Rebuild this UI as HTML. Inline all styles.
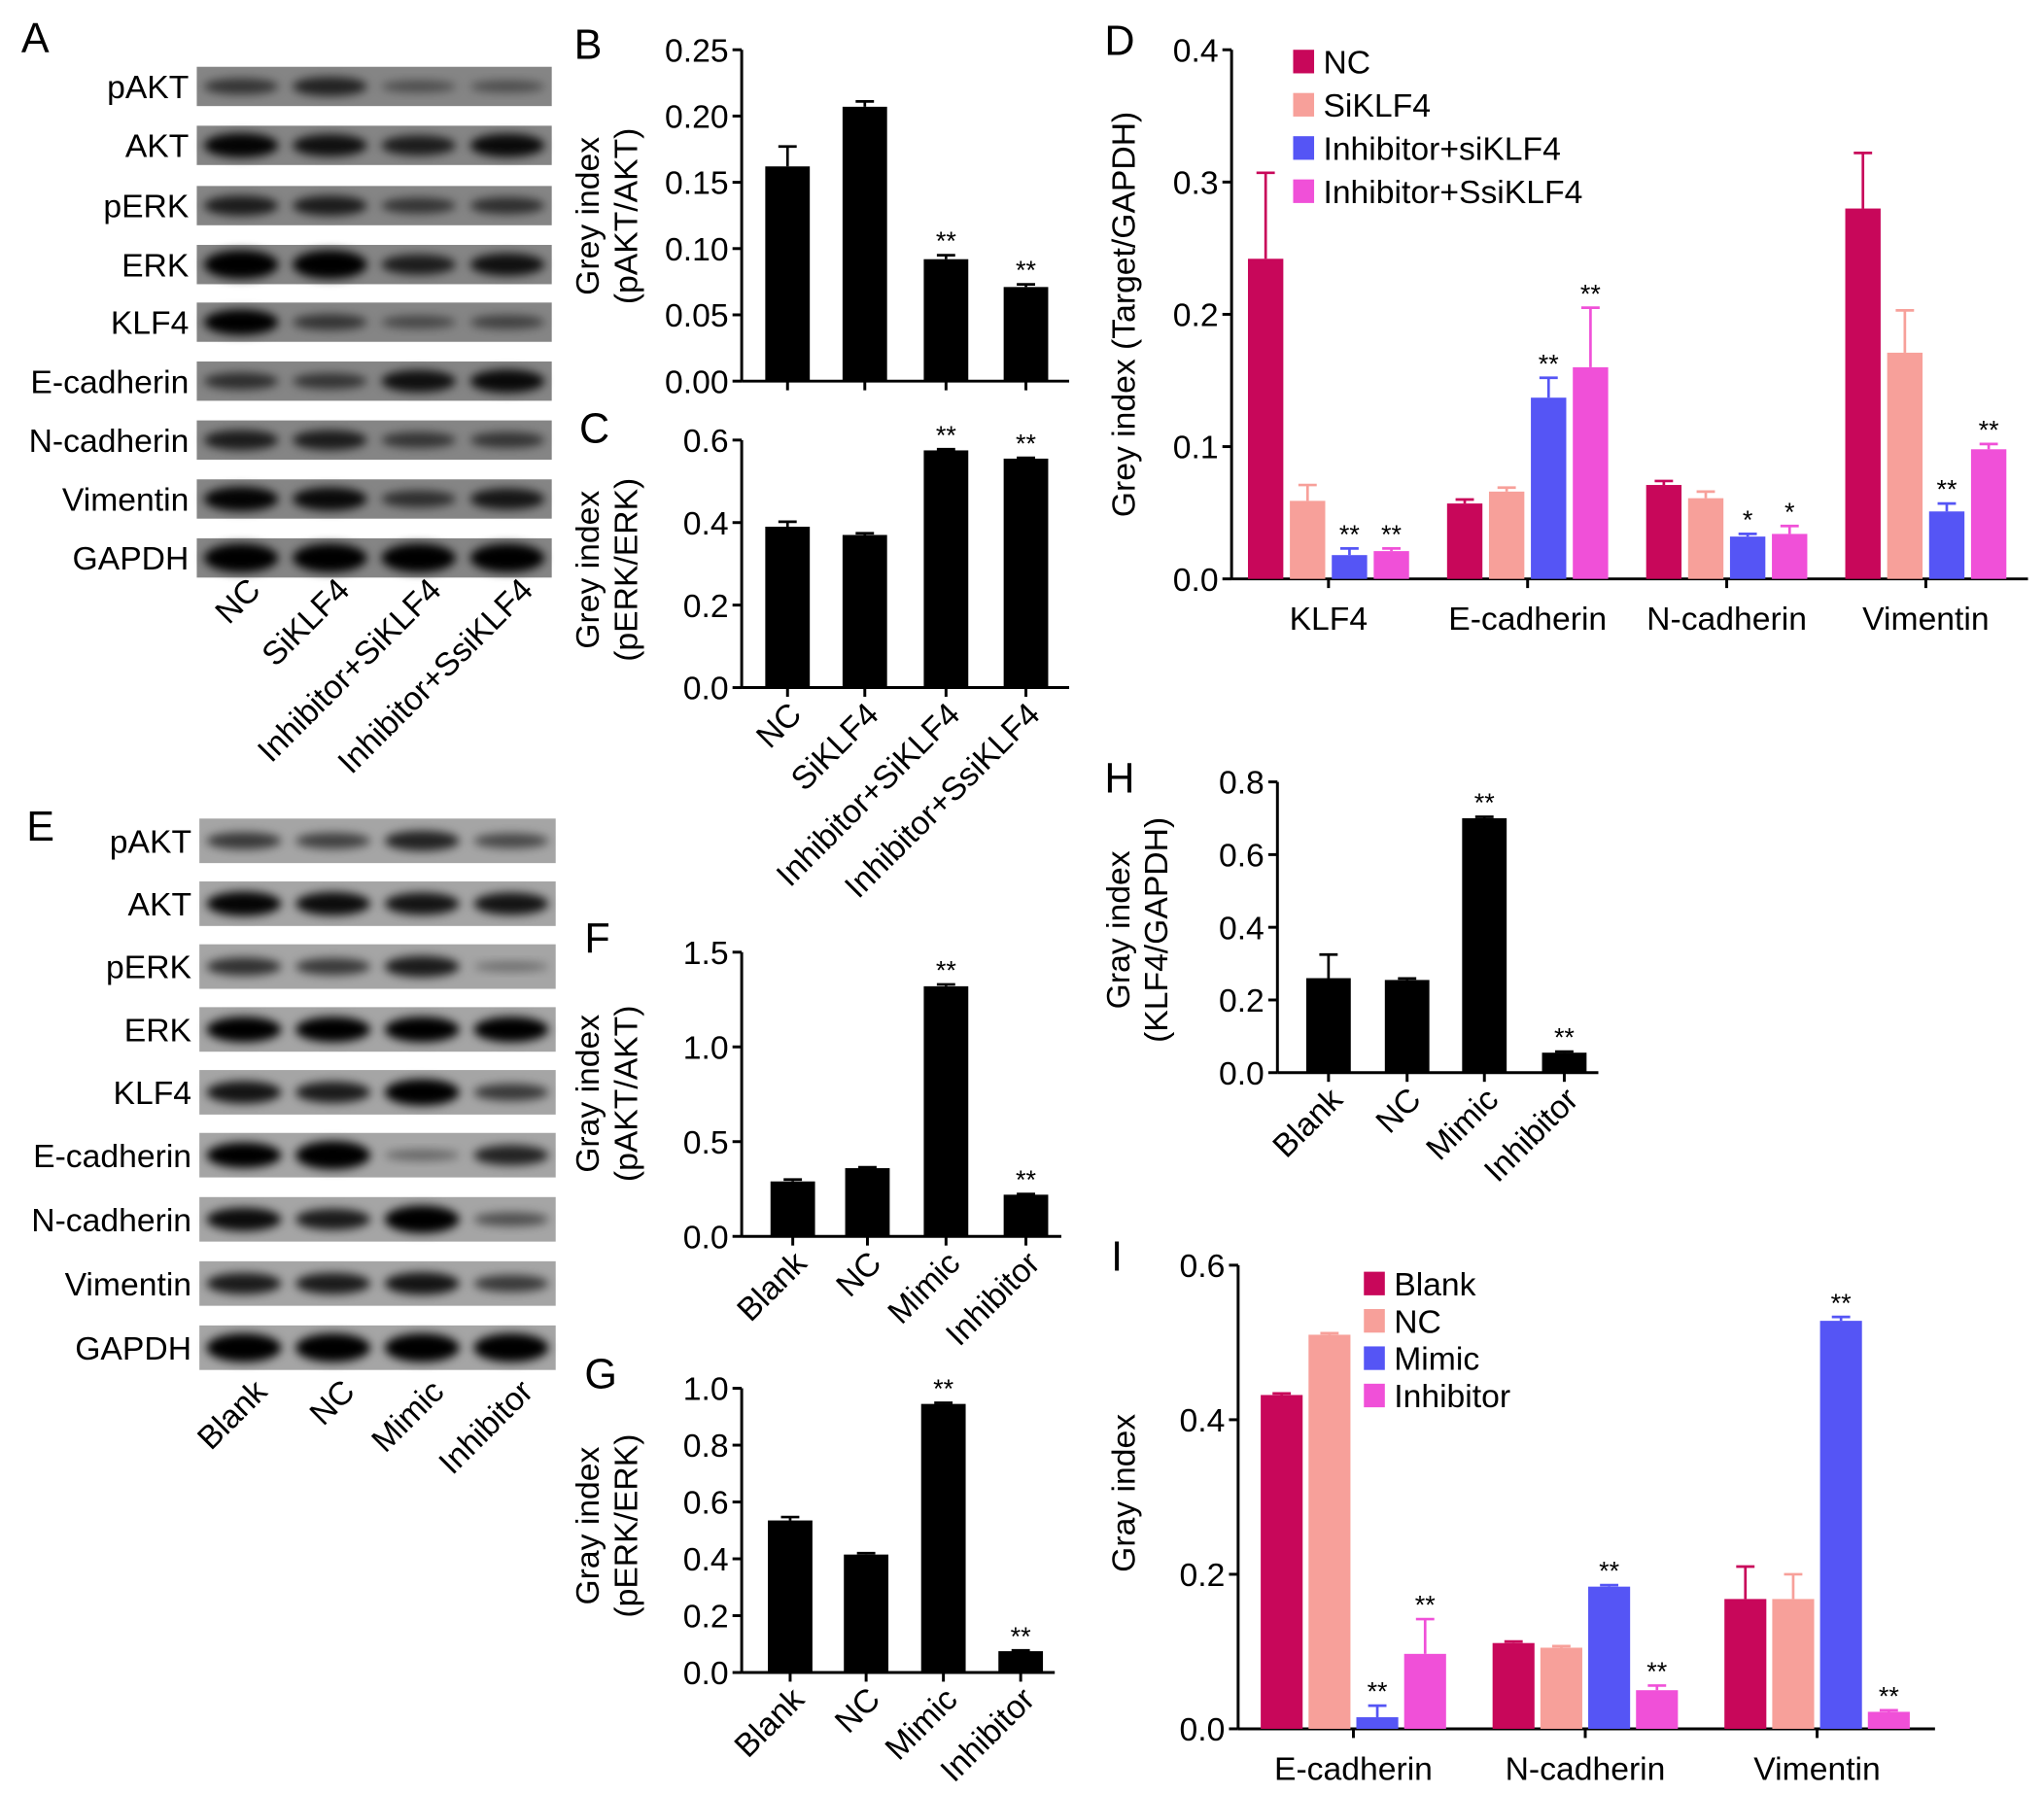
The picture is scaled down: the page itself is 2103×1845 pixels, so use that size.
<!DOCTYPE html>
<html><head><meta charset="utf-8"><style>
html,body{margin:0;padding:0;background:#fff;}
svg{display:block;font-family:"Liberation Sans",Arial,sans-serif;}
</style></head><body>
<svg id="fig" width="2103" height="1845" viewBox="0 0 1560 1369" xmlns="http://www.w3.org/2000/svg">
<defs><filter id="blur" x="-30%" y="-60%" width="160%" height="220%"><feGaussianBlur stdDeviation="3.5"/></filter></defs>
</svg>
<script>
// ---- data ----
const groups4A = ["NC","SiKLF4","Inhibitor+SiKLF4","Inhibitor+SsiKLF4"];
const groupsE = ["Blank","NC","Mimic","Inhibitor"];
const blotRows = ["pAKT","AKT","pERK","ERK","KLF4","E-cadherin","N-cadherin","Vimentin","GAPDH"];
const blotA = [[.4,.55,.2,.2],[.8,.7,.6,.75],[.6,.6,.4,.45],[1,1,.6,.7],[.85,.4,.25,.3],[.45,.4,.7,.75],[.6,.6,.4,.4],[.8,.75,.45,.65],[1,1,1,1]];
const blotE = [[.45,.4,.6,.35],[.8,.75,.7,.7],[.5,.45,.65,.1],[.85,.85,.85,.85],[.7,.65,.9,.45],[.85,1,.15,.6],[.75,.65,.95,.3],[.65,.65,.7,.45],[1,1,1,1]];

const bVals = [0.162,0.207,0.092,0.071];
const bErr = [0.015,0.004,0.003,0.002];
const bSig = ["","","**","**"];
const bTicks = [0,0.05,0.10,0.15,0.20,0.25];
const bTickLabels = ["0.00","0.05","0.10","0.15","0.20","0.25"];

const cVals = [0.39,0.37,0.575,0.555];
const cErr = [0.012,0.004,0.003,0.002];
const cSig = ["","","**","**"];
const cTicks = [0,0.2,0.4,0.6];
const cTickLabels = ["0.0","0.2","0.4","0.6"];

const fVals = [0.29,0.36,1.32,0.22];
const fErr = [0.01,0.005,0.01,0.004];
const fSig = ["","","**","**"];
const fTicks = [0,0.5,1.0,1.5];
const fTickLabels = ["0.0","0.5","1.0","1.5"];

const gVals = [0.535,0.415,0.945,0.075];
const gErr = [0.012,0.005,0.004,0.003];
const gSig = ["","","**","**"];
const gTicks = [0,0.2,0.4,0.6,0.8,1.0];
const gTickLabels = ["0.0","0.2","0.4","0.6","0.8","1.0"];

const hVals = [0.26,0.255,0.70,0.055];
const hErr = [0.065,0.004,0.004,0.003];
const hSig = ["","","**","**"];
const hTicks = [0,0.2,0.4,0.6,0.8];
const hTickLabels = ["0.0","0.2","0.4","0.6","0.8"];

const dCats = ["KLF4","E-cadherin","N-cadherin","Vimentin"];
const dSeries = ["NC","SiKLF4","Inhibitor+siKLF4","Inhibitor+SsiKLF4"];
const dVals = [[0.242,0.057,0.071,0.28],[0.059,0.066,0.061,0.171],[0.018,0.137,0.032,0.051],[0.021,0.16,0.034,0.098]];
const dErr = [[0.065,0.003,0.003,0.042],[0.012,0.003,0.005,0.032],[0.005,0.015,0.002,0.006],[0.002,0.045,0.006,0.004]];
const dSig = [["","","",""],["","","",""],["**","**","*","**"],["**","**","*","**"]];
const dTicks = [0,0.1,0.2,0.3,0.4];
const dTickLabels = ["0.0","0.1","0.2","0.3","0.4"];

const iCats = ["E-cadherin","N-cadherin","Vimentin"];
const iSeries = ["Blank","NC","Mimic","Inhibitor"];
const iVals = [[0.432,0.111,0.168],[0.51,0.105,0.168],[0.015,0.184,0.528],[0.097,0.05,0.022]];
const iErr = [[0.002,0.002,0.042],[0.002,0.002,0.032],[0.015,0.002,0.005],[0.045,0.006,0.002]];
const iSig = [["","",""],["","",""],["**","**","**"],["**","**","**"]];
const iTicks = [0,0.2,0.4,0.6];
const iTickLabels = ["0.0","0.2","0.4","0.6"];

const colors = ["#C8075A","#F7A09A","#5555F5","#F050D8"];
const FS = 25;

// ---- helpers ----
const svg = document.getElementById('fig');
const NS = "http://www.w3.org/2000/svg";
function mk(tag, attrs, parent){const e=document.createElementNS(NS,tag);for(const k in attrs)e.setAttribute(k,attrs[k]);(parent||svg).appendChild(e);return e;}
function txt(s, attrs, parent){const e=mk('text',attrs,parent);e.textContent=s;return e;}
function line(x1,y1,x2,y2,p,w){return mk('line',{x1,y1,x2,y2,stroke:'#000','stroke-width':w||2.2},p);}

function panelLabel(s,x,y){const t=txt(s,{x,y,'font-size':32});}

function blot(name,data,x0,x1,ys,h,bg,xlabY,xlabX,cats){
  const g=mk('g',{});
  const lw=(x1-x0)/4;
  blotRows.forEach((r,ri)=>{
    const y=ys[ri];
    const rg=mk('g',{},g);
    mk('rect',{x:x0,y:y-h/2,width:x1-x0,height:h,fill:bg},rg);
    data[ri].forEach((v,li)=>{
      const cx=x0+lw*(li+0.5);
      const b=mk('ellipse',{cx,cy:y,rx:lw*0.42,ry:3+v*8,fill:'#000','fill-opacity':Math.min(1,0.25+v*0.9),filter:'url(#blur)'},rg);
      
    });
    const t=txt(r,{x:x0-6,y:y+9,'font-size':FS,'text-anchor':'end'},rg);
    
  });
  cats.forEach((c,i)=>{
    const x=xlabX[i];
    const t=txt(c,{x,y:xlabY,'font-size':FS,'text-anchor':'end',transform:`rotate(-45 ${x} ${xlabY})`},g);
    
  });
}

function yAxis(g,ax,yTop,yZero,max,ticks,labels){
  const sy=v=>yZero-(yZero-yTop)*v/max;
  line(ax,sy(ticks[ticks.length-1]),ax,yZero,g);
  ticks.forEach((t,i)=>{line(ax-7,sy(t),ax,sy(t),g);
    const l=txt(labels[i],{x:ax-10,y:sy(t)+9,'font-size':FS,'text-anchor':'end'},g);
    });
  return sy;
}

function ytitle(g,lines,xs,cy){
  lines.forEach((s,i)=>{const t=txt(s,{x:xs[i],y:cy,'font-size':FS,'text-anchor':'middle',transform:`rotate(-90 ${xs[i]} ${cy})`},g);
  });
}

function simpleBar(name,o){
  const g=mk('g',{});
  const sy=yAxis(g,o.ax,o.yTop,o.yZero,o.max,o.ticks,o.labels);
  line(o.ax,o.yZero,o.axEnd,o.yZero,g);
  o.vals.forEach((v,i)=>{
    const cx=o.cx[i];
    const r=mk('rect',{x:cx-o.bw/2,y:sy(v),width:o.bw,height:o.yZero-sy(v),fill:'#000'},g);
    
    const ye=sy(v+o.err[i]);
    line(cx,sy(v),cx,ye,g,2);line(cx-7,ye,cx+7,ye,g,2);
    line(cx,o.yZero,cx,o.yZero+7,g);
    if(o.sig[i]){const s=txt(o.sig[i],{x:cx,y:ye-4,'font-size':20,'text-anchor':'middle'},g);}
    if(o.rot){const x=cx+12,y=o.yZero+22;
      const t=txt(o.cats[i],{x,y,'font-size':FS,'text-anchor':'end',transform:`rotate(-45 ${x} ${y})`},g);
      }
  });
  ytitle(g,o.title,o.tx,o.tcy);
}

function groupedBar(name,o){
  const g=mk('g',{});
  const sy=yAxis(g,o.ax,o.yTop,o.yZero,o.max,o.ticks,o.labels);
  line(o.ax,o.yZero,o.axEnd,o.yZero,g);
  o.cats.forEach((c,ci)=>{
    const gc=o.g0+o.gs*ci;
    line(gc,o.yZero,gc,o.yZero+7,g);
    const t=txt(c,{x:gc,y:o.yZero+39,'font-size':FS,'text-anchor':'middle'},g);
    
    o.vals.forEach((sv,si)=>{
      const v=sv[ci];const cx=gc+(si-1.5)*o.pitch;
      const r=mk('rect',{x:cx-o.bw/2,y:sy(v),width:o.bw,height:o.yZero-sy(v),fill:colors[si]},g);
      
      const ye=sy(v+o.err[si][ci]);
      mk('line',{x1:cx,y1:sy(v),x2:cx,y2:ye,stroke:colors[si],'stroke-width':2},g);
      mk('line',{x1:cx-7,y1:ye,x2:cx+7,y2:ye,stroke:colors[si],'stroke-width':2},g);
      if(o.sig[si][ci]){const s=txt(o.sig[si][ci],{x:cx,y:ye-4,'font-size':20,'text-anchor':'middle'},g);}
    });
  });
  const lg=mk('g',{},g);
  o.series.forEach((s,si)=>{
    const y=o.ly+si*o.lsp;
    const e=mk('g',{},lg);
    mk('rect',{x:o.lx,y:y-9,width:16,height:18,fill:colors[si]},e);
    txt(s,{x:o.lx+23,y:y+9,'font-size':FS},e);
  });
  ytitle(g,o.title,o.tx,o.tcy);
}

// ---- draw ----
panelLabel('A',16,40);panelLabel('B',438,45);panelLabel('C',442,338);panelLabel('D',843,42);
panelLabel('E',20,642);panelLabel('F',446,727);panelLabel('G',446,1060);panelLabel('H',843,605);panelLabel('I',848,970);

blot('western-blot-a',blotA,150,421,[66,111,157,202,246,291,336,381,426],30,'#858585',452,[200,268,338,408],groups4A);
blot('western-blot-e',blotE,152,424,[642,690,738,786,834,882,931,980,1029],34,'#a5a5a5',1064,[205,272,340,408],groupsE);

simpleBar('chart-b',{ax:566,yTop:38,yZero:291,max:0.25,ticks:bTicks,labels:bTickLabels,axEnd:816,vals:bVals,err:bErr,sig:bSig,cats:groups4A,cx:[601,660,722,783],bw:34,rot:false,title:['Grey index','(pAKT/AKT)'],tx:[457,486],tcy:165});
simpleBar('chart-c',{ax:566,yTop:336,yZero:525,max:0.6,ticks:cTicks,labels:cTickLabels,axEnd:816,vals:cVals,err:cErr,sig:cSig,cats:groups4A,cx:[601,660,722,783],bw:34,rot:true,title:['Grey index','(pERK/ERK)'],tx:[457,486],tcy:435});
simpleBar('chart-f',{ax:566,yTop:727,yZero:944,max:1.5,ticks:fTicks,labels:fTickLabels,axEnd:810,vals:fVals,err:fErr,sig:fSig,cats:groupsE,cx:[605,662,722,783],bw:34,rot:true,title:['Gray index','(pAKT/AKT)'],tx:[457,486],tcy:835});
simpleBar('chart-g',{ax:566,yTop:1060,yZero:1277,max:1.0,ticks:gTicks,labels:gTickLabels,axEnd:805,vals:gVals,err:gErr,sig:gSig,cats:groupsE,cx:[603,661,720,779],bw:34,rot:true,title:['Gray index','(pERK/ERK)'],tx:[457,486],tcy:1165});
simpleBar('chart-h',{ax:975,yTop:597,yZero:819,max:0.8,ticks:hTicks,labels:hTickLabels,axEnd:1220,vals:hVals,err:hErr,sig:hSig,cats:groupsE,cx:[1014,1074,1133,1194],bw:34,rot:true,title:['Gray index','(KLF4/GAPDH)'],tx:[862,891],tcy:710});

groupedBar('chart-d',{ax:940,yTop:38,yZero:442,max:0.4,ticks:dTicks,labels:dTickLabels,axEnd:1548,cats:dCats,series:dSeries,vals:dVals,err:dErr,sig:dSig,g0:1014,gs:152,pitch:32,bw:27,lx:987,ly:47,lsp:33,title:['Grey index (Target/GAPDH)'],tx:[866],tcy:240});
groupedBar('chart-i',{ax:945,yTop:966,yZero:1320,max:0.6,ticks:iTicks,labels:iTickLabels,axEnd:1477,cats:iCats,series:iSeries,vals:iVals,err:iErr,sig:iSig,g0:1033,gs:177,pitch:36.5,bw:32,lx:1041,ly:980,lsp:28.5,title:['Gray index'],tx:[866],tcy:1140});
</script>
</body></html>
